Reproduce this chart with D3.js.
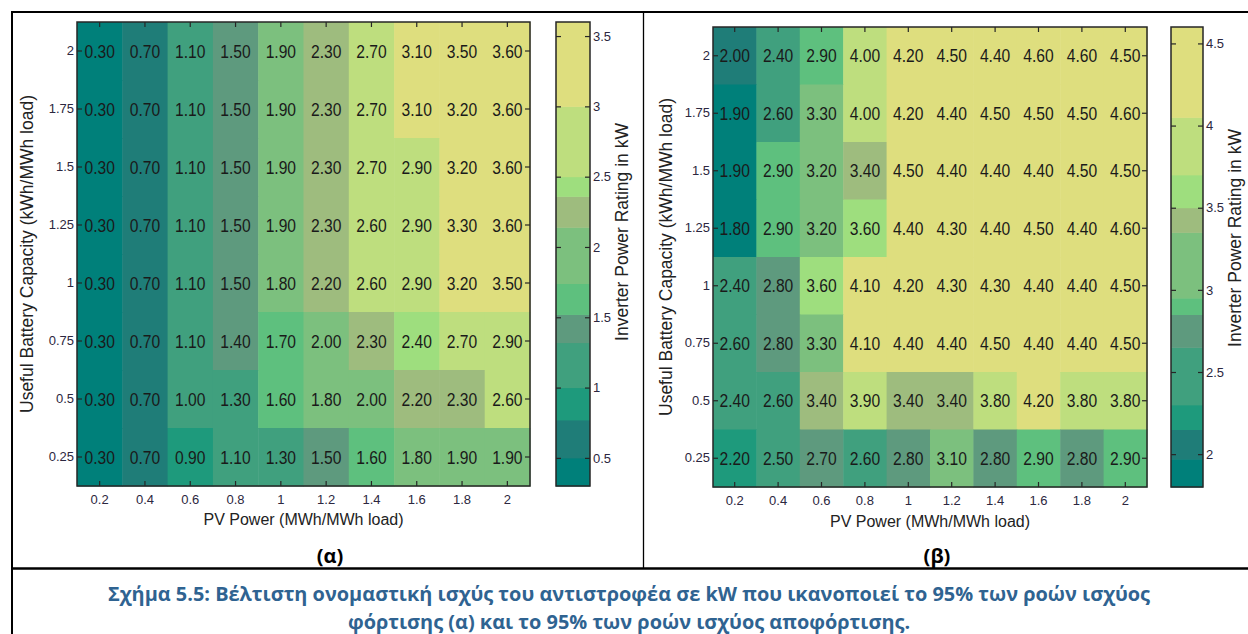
<!DOCTYPE html>
<html>
<head>
<meta charset="utf-8">
<script src="https://cdn.jsdelivr.net/npm/d3@7/dist/d3.min.js"></script>
<style>
  body { margin: 0; background: #ffffff; }
  svg text { font-family: "Liberation Sans", Arial, sans-serif; }
</style>
</head>
<body>
<svg id="fig" width="1248" height="634"></svg>
<script>
// PV power (columns) and useful battery capacity (rows, top to bottom)
const pvPower = [0.2, 0.4, 0.6, 0.8, 1, 1.2, 1.4, 1.6, 1.8, 2];
const batteryCap = [2, 1.75, 1.5, 1.25, 1, 0.75, 0.5, 0.25];

// (a) inverter rating for 95% of charging power flows, kW
const chargeRating = [
  [0.30, 0.70, 1.10, 1.50, 1.90, 2.30, 2.70, 3.10, 3.50, 3.60],
  [0.30, 0.70, 1.10, 1.50, 1.90, 2.30, 2.70, 3.10, 3.20, 3.60],
  [0.30, 0.70, 1.10, 1.50, 1.90, 2.30, 2.70, 2.90, 3.20, 3.60],
  [0.30, 0.70, 1.10, 1.50, 1.90, 2.30, 2.60, 2.90, 3.30, 3.60],
  [0.30, 0.70, 1.10, 1.50, 1.80, 2.20, 2.60, 2.90, 3.20, 3.50],
  [0.30, 0.70, 1.10, 1.40, 1.70, 2.00, 2.30, 2.40, 2.70, 2.90],
  [0.30, 0.70, 1.00, 1.30, 1.60, 1.80, 2.00, 2.20, 2.30, 2.60],
  [0.30, 0.70, 0.90, 1.10, 1.30, 1.50, 1.60, 1.80, 1.90, 1.90]
];

// (b) inverter rating for 95% of discharging power flows, kW
const dischargeRating = [
  [2.00, 2.40, 2.90, 4.00, 4.20, 4.50, 4.40, 4.60, 4.60, 4.50],
  [1.90, 2.60, 3.30, 4.00, 4.20, 4.40, 4.50, 4.50, 4.50, 4.60],
  [1.90, 2.90, 3.20, 3.40, 4.50, 4.40, 4.40, 4.40, 4.50, 4.50],
  [1.80, 2.90, 3.20, 3.60, 4.40, 4.30, 4.40, 4.50, 4.40, 4.60],
  [2.40, 2.80, 3.60, 4.10, 4.20, 4.30, 4.30, 4.40, 4.40, 4.50],
  [2.60, 2.80, 3.30, 4.10, 4.40, 4.40, 4.50, 4.40, 4.40, 4.50],
  [2.40, 2.60, 3.40, 3.90, 3.40, 3.40, 3.80, 4.20, 3.80, 3.80],
  [2.20, 2.50, 2.70, 2.60, 2.80, 3.10, 2.80, 2.90, 2.80, 2.90]
];

// discrete colormap (11 bands) and the contour levels of each colorbar
const bandColors = ['#00807a', '#1f7d78', '#1e9a7c', '#40a07e', '#5e9a7e', '#5ec07e',
                    '#7cc07e', '#9ebc7e', '#9ede7e', '#bede7e', '#dede7e'];
const chargeLevels = [0.5, 0.77, 1.0, 1.32, 1.52, 1.74, 2.14, 2.36, 2.5, 3.0];
const chargeRange = [0.3, 3.6];
const chargeTicks = [0.5, 1, 1.5, 2, 2.5, 3, 3.5];
const dischargeLevels = [1.97, 2.15, 2.3, 2.65, 2.85, 2.95, 3.35, 3.5, 3.7, 4.05];
const dischargeRange = [1.8, 4.6];
const dischargeTicks = [2, 2.5, 3, 3.5, 4, 4.5];

const xLabel = 'PV Power (MWh/MWh load)';
const yLabel = 'Useful Battery Capacity (kWh/MWh load)';
const cbLabel = 'Inverter Power Rating in kW';
const panelLabels = ['(α)', '(β)'];
const captionLines = [
  'Σχήμα 5.5: Βέλτιστη ονομαστική ισχύς του αντιστροφέα σε kW που ικανοποιεί το 95% των ροών ισχύος',
  'φόρτισης (α) και το 95% των ροών ισχύος αποφόρτισης.'
];

const svg = d3.select('#fig');
const INK = '#262626';
const TICK_INK = '#2c2740';

function heatmap(cfg) {
  const g = svg.append('g');
  const x = d3.scaleBand().domain(pvPower).range([cfg.left, cfg.left + cfg.width]);
  const y = d3.scaleBand().domain(batteryCap).range([cfg.top, cfg.top + cfg.height]);
  const color = d3.scaleThreshold().domain(cfg.levels).range(bandColors);

  const cells = [];
  cfg.values.forEach((row, i) => row.forEach((v, j) => cells.push({cap: batteryCap[i], pv: pvPower[j], v})));

  g.selectAll('.cell')
    .data(cells)
    .enter()
    .append('rect')
    .attr('class', 'cell')
    .attr('x', d => x(d.pv))
    .attr('y', d => y(d.cap))
    .attr('width', x.bandwidth() + 0.5)
    .attr('height', y.bandwidth() + 0.5)
    .attr('fill', d => color(d.v));

  g.selectAll('.val')
    .data(cells)
    .enter()
    .append('text')
    .attr('class', 'val')
    .attr('transform', d => `translate(${x(d.pv) + x.bandwidth() / 2}, ${y(d.cap) + y.bandwidth() / 2}) scale(0.92, 1.08)`)
    .attr('dy', '0.36em')
    .attr('text-anchor', 'middle')
    .attr('font-size', 17)
    .attr('fill', '#1a1a1a')
    .text(d => d.v.toFixed(2));

  // axes, ticks pointing inwards on all four sides
  const bottom = g.append('g')
    .attr('transform', `translate(0, ${cfg.top + cfg.height})`)
    .call(d3.axisBottom(x).tickSizeInner(-5).tickSizeOuter(0).tickPadding(9).tickFormat(d3.format('')));
  const left = g.append('g')
    .attr('transform', `translate(${cfg.left}, 0)`)
    .call(d3.axisLeft(y).tickSizeInner(-5).tickSizeOuter(0).tickPadding(3).tickFormat(d3.format('')));
  g.append('g')
    .attr('transform', `translate(0, ${cfg.top})`)
    .call(d3.axisTop(x).tickSizeInner(-5).tickSizeOuter(0).tickFormat(''));
  g.append('g')
    .attr('transform', `translate(${cfg.left + cfg.width}, 0)`)
    .call(d3.axisRight(y).tickSizeInner(-5).tickSizeOuter(0).tickFormat(''));

  g.selectAll('.domain').remove();
  g.selectAll('.tick line').attr('stroke', INK).attr('stroke-width', 1.2);
  bottom.selectAll('text').attr('font-size', 13).attr('fill', TICK_INK);
  left.selectAll('text').attr('font-size', 13).attr('fill', TICK_INK);

  g.append('rect')
    .attr('x', cfg.left).attr('y', cfg.top)
    .attr('width', cfg.width).attr('height', cfg.height)
    .attr('fill', 'none').attr('stroke', INK).attr('stroke-width', 1.5);

  g.append('text')
    .attr('x', cfg.left + cfg.width / 2)
    .attr('y', cfg.xLabelY)
    .attr('text-anchor', 'middle')
    .attr('font-size', 16)
    .attr('fill', '#222')
    .text(xLabel);

  g.append('text')
    .attr('transform', `translate(${cfg.yLabelX}, ${cfg.top + cfg.height / 2}) rotate(-90)`)
    .attr('text-anchor', 'middle')
    .attr('font-size', 17.5)
    .attr('fill', '#222')
    .text(yLabel);

  // colorbar
  const cb = d3.scaleLinear().domain(cfg.range).range([cfg.top + cfg.height, cfg.top]);
  const edges = [cfg.range[0], ...cfg.levels, cfg.range[1]];
  const bands = bandColors.map((c, i) => ({lo: edges[i], hi: edges[i + 1], c}));

  g.selectAll('.band')
    .data(bands)
    .enter()
    .append('rect')
    .attr('class', 'band')
    .attr('x', cfg.cbLeft)
    .attr('y', d => cb(d.hi))
    .attr('width', cfg.cbWidth)
    .attr('height', d => cb(d.lo) - cb(d.hi) + 0.5)
    .attr('fill', d => d.c);

  const cbAxis = g.append('g')
    .attr('transform', `translate(${cfg.cbLeft + cfg.cbWidth}, 0)`)
    .call(d3.axisRight(cb).tickValues(cfg.ticks).tickSizeInner(-5).tickSizeOuter(0).tickPadding(3).tickFormat(d3.format('')));
  g.append('g')
    .attr('transform', `translate(${cfg.cbLeft}, 0)`)
    .call(d3.axisLeft(cb).tickValues(cfg.ticks).tickSizeInner(-5).tickSizeOuter(0).tickFormat(''));
  g.selectAll('.domain').remove();
  g.selectAll('.tick line').attr('stroke', INK).attr('stroke-width', 1.2);
  cbAxis.selectAll('text').attr('font-size', 13).attr('fill', TICK_INK);

  g.append('rect')
    .attr('x', cfg.cbLeft).attr('y', cfg.top)
    .attr('width', cfg.cbWidth).attr('height', cfg.height)
    .attr('fill', 'none').attr('stroke', INK).attr('stroke-width', 1.5);

  g.append('text')
    .attr('transform', `translate(${cfg.cbLabelX}, ${cfg.cbLabelY}) rotate(-90)`)
    .attr('text-anchor', 'middle')
    .attr('font-size', 17.5)
    .attr('fill', '#222')
    .text(cbLabel);
}

heatmap({
  values: chargeRating, levels: chargeLevels, range: chargeRange, ticks: chargeTicks,
  left: 77, top: 22, width: 453, height: 464,
  xLabelY: 525, yLabelX: 33,
  cbLeft: 556, cbWidth: 34, cbLabelX: 628, cbLabelY: 232
});

heatmap({
  values: dischargeRating, levels: dischargeLevels, range: dischargeRange, ticks: dischargeTicks,
  left: 713, top: 27, width: 434, height: 460,
  xLabelY: 527, yLabelX: 672,
  cbLeft: 1171, cbWidth: 32, cbLabelX: 1241, cbLabelY: 238
});

// document table frame
const frame = svg.append('g').attr('stroke', '#000');
frame.append('line').attr('x1', 11).attr('x2', 1248).attr('y1', 12).attr('y2', 12).attr('stroke-width', 2);
frame.append('line').attr('x1', 12).attr('x2', 12).attr('y1', 11).attr('y2', 634).attr('stroke-width', 2);
frame.append('line').attr('x1', 643.5).attr('x2', 643.5).attr('y1', 12).attr('y2', 568).attr('stroke-width', 1.3);
frame.append('line').attr('x1', 11).attr('x2', 1248).attr('y1', 568.5).attr('y2', 568.5).attr('stroke-width', 2.5);

svg.selectAll('.panel')
  .data(panelLabels)
  .enter()
  .append('text')
  .attr('class', 'panel')
  .attr('x', (d, i) => i === 0 ? 330 : 937)
  .attr('y', 563)
  .attr('text-anchor', 'middle')
  .attr('font-size', 20)
  .attr('font-weight', 'bold')
  .style('font-family', '"Open Sans", sans-serif')
  .attr('fill', '#000')
  .text(d => d);

const caption = svg.selectAll('.caption')
  .data(captionLines)
  .enter()
  .append('text')
  .attr('class', 'caption')
  .attr('x', 629)
  .attr('y', (d, i) => 601 + i * 28)
  .attr('text-anchor', 'middle')
  .attr('font-size', 20)
  .attr('font-weight', 'bold')
  .style('font-family', '"Open Sans", sans-serif')
  .attr('fill', '#2f6391')
  .text(d => d);

// squeeze the caption to the width of the original (narrower typeface)
const nodes = caption.nodes();
const squeeze = 1042 / nodes[0].getComputedTextLength();
nodes.forEach(n => {
  const w = n.getComputedTextLength() * squeeze;
  d3.select(n).attr('textLength', w).attr('lengthAdjust', 'spacingAndGlyphs');
});
</script>
</body>
</html>
